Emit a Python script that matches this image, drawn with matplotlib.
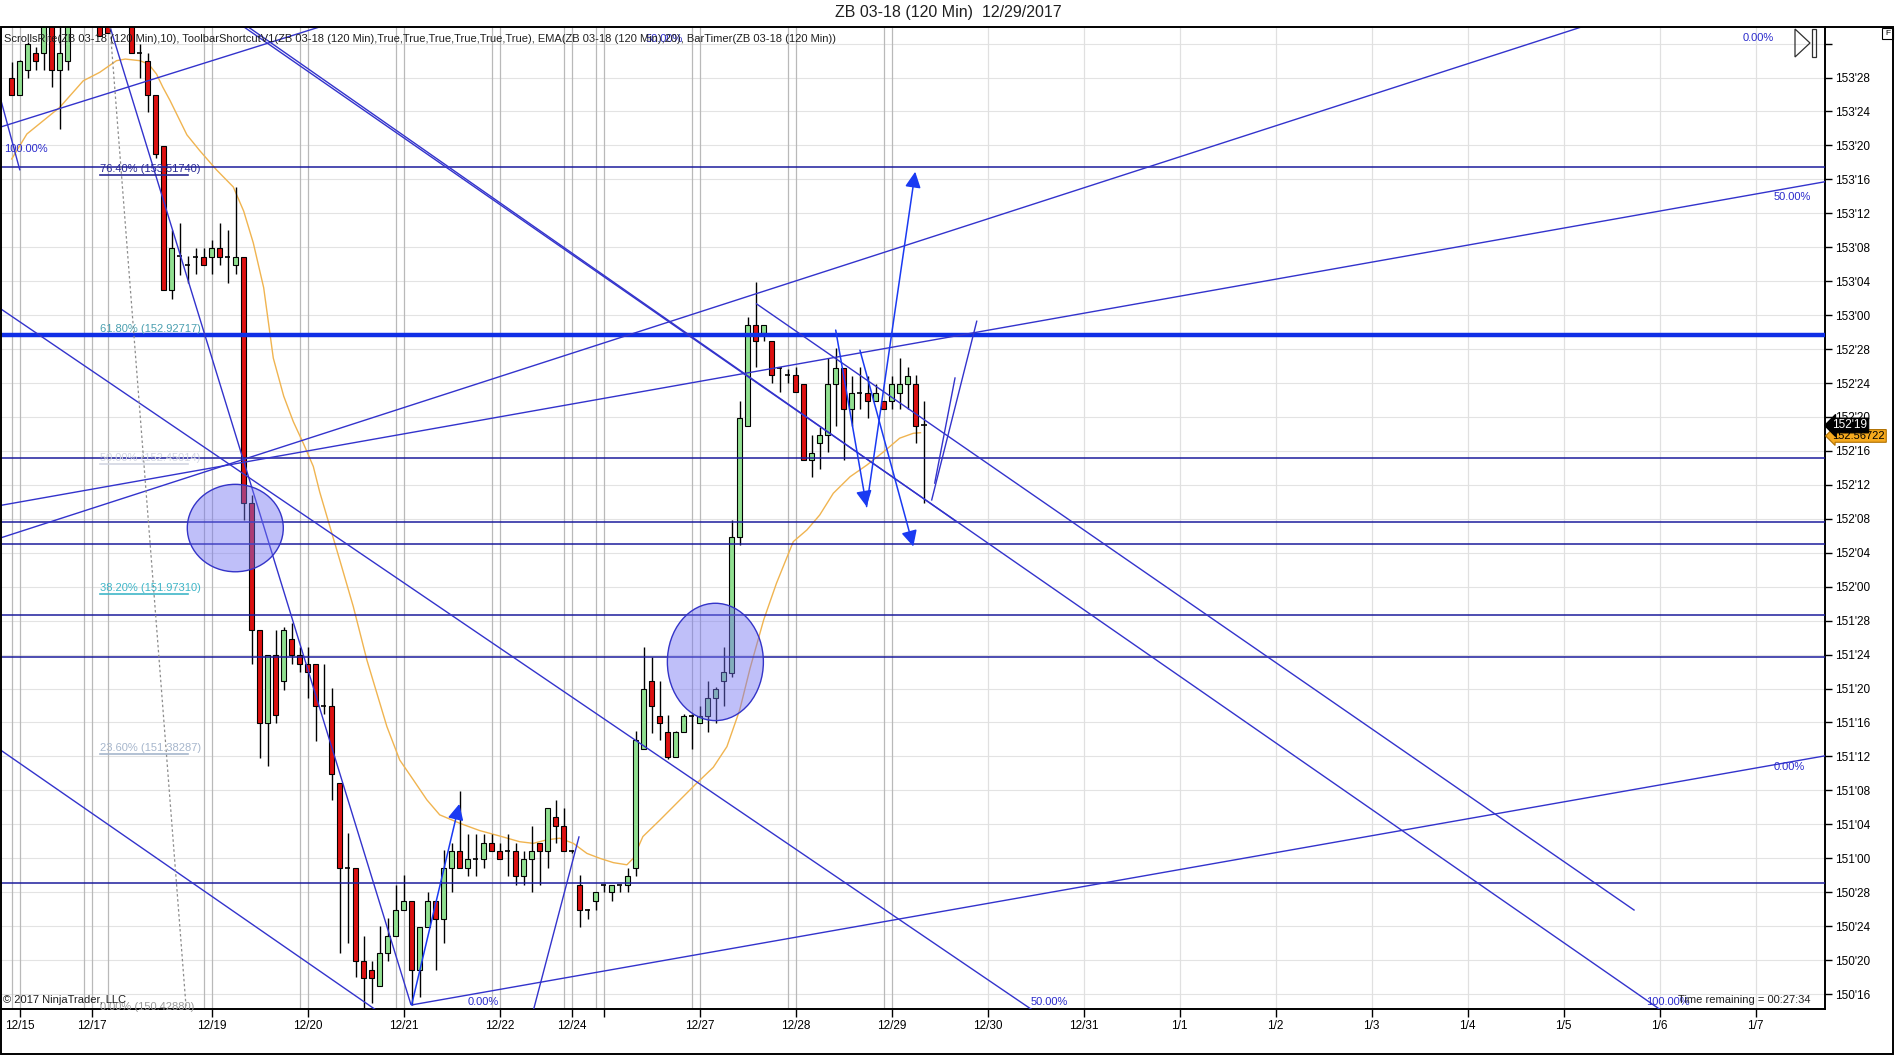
import matplotlib
matplotlib.use('Agg')
import matplotlib.pyplot as plt
from matplotlib.patches import Ellipse, Rectangle, Polygon
import matplotlib.transforms as mtransforms

plt.rcParams['font.family'] = ['Liberation Sans', 'DejaVu Sans']
NARROW = ['Liberation Sans Narrow', 'Liberation Sans', 'DejaVu Sans']

# ---------------- data (bar index = 120-min bar number) ----------------
opens = [153.872, 153.811, 153.904, 153.964, 153.964, 154.090, 153.904, 153.935, 154.100, 154.150,
         154.120, 154.150, 154.120, 154.080, 154.120, 154.080, 153.964, 153.935, 153.811, 153.622,
         153.091, 153.218, 153.183, 153.213, 153.213, 153.213, 153.246, 153.213, 153.183, 153.213,
         152.307, 151.840, 151.497, 151.748, 151.654, 151.809, 151.748, 151.715, 151.715, 151.560,
         151.560, 151.276, 150.963, 150.963, 150.620, 150.589, 150.528, 150.650, 150.714, 150.810,
         150.841, 150.589, 150.746, 150.841, 150.777, 150.963, 151.025, 150.963, 150.996, 150.996,
         151.058, 151.025, 151.025, 151.025, 150.935, 150.996, 151.058, 151.025, 151.151, 151.119,
         151.025, 150.902, 150.810, 150.841, 150.902, 150.874, 150.902, 150.902, 150.963, 151.402,
         151.651, 151.525, 151.464, 151.372, 151.464, 151.525, 151.497, 151.525, 151.589, 151.653,
         151.684, 152.184, 152.592, 152.964, 152.933, 152.905, 152.807, 152.780, 152.780, 152.745,
         152.467, 152.528, 152.559, 152.745, 152.807, 152.653, 152.715, 152.715, 152.684, 152.682,
         152.684, 152.715, 152.745, 152.745, 152.594]
highs = [153.933, 153.940, 154.005, 153.986, 154.120, 154.120, 154.100, 154.120, 154.180, 154.200,
         154.190, 154.200, 154.160, 154.150, 154.140, 154.100, 153.998, 153.964, 153.811, 153.622,
         153.312, 153.340, 153.218, 153.246, 153.246, 153.277, 153.340, 153.312, 153.472, 153.213,
         152.337, 151.840, 151.748, 151.840, 151.850, 151.868, 151.779, 151.779, 151.715, 151.716,
         151.626, 151.276, 151.092, 150.963, 150.712, 150.620, 150.749, 150.779, 150.902, 150.939,
         150.841, 150.746, 150.874, 150.841, 151.031, 151.058, 151.248, 151.090, 151.090, 151.090,
         151.090, 151.058, 151.090, 151.058, 151.025, 151.119, 151.058, 151.184, 151.215, 151.184,
         151.030, 150.939, 150.812, 150.874, 150.902, 150.902, 150.902, 150.963, 151.467, 151.777,
         151.743, 151.653, 151.528, 151.470, 151.530, 151.530, 151.561, 151.651, 151.630, 151.777,
         152.246, 152.682, 152.994, 153.123, 152.964, 152.905, 152.810, 152.800, 152.810, 152.745,
         152.559, 152.589, 152.841, 152.880, 152.807, 152.776, 152.808, 152.776, 152.745, 152.684,
         152.776, 152.841, 152.808, 152.780, 152.684]
lows = [153.811, 153.811, 153.872, 153.904, 153.904, 153.839, 153.686, 153.904, 154.070, 154.080,
        154.080, 154.029, 154.040, 154.070, 154.070, 153.964, 153.872, 153.747, 153.580, 153.091,
        153.058, 153.148, 153.119, 153.152, 153.183, 153.152, 153.183, 153.119, 153.152, 152.244,
        151.715, 151.370, 151.339, 151.497, 151.621, 151.715, 151.685, 151.591, 151.433, 151.530,
        151.215, 150.650, 150.687, 150.564, 150.440, 150.466, 150.528, 150.620, 150.714, 150.810,
        150.460, 150.491, 150.746, 150.589, 150.687, 150.874, 150.963, 150.933, 150.935, 150.963,
        151.028, 150.996, 150.935, 150.902, 150.902, 150.874, 150.902, 150.963, 151.058, 151.025,
        151.020, 150.746, 150.777, 150.810, 150.874, 150.841, 150.874, 150.874, 150.933, 151.402,
        151.463, 151.436, 151.365, 151.372, 151.464, 151.402, 151.497, 151.464, 151.497, 151.559,
        151.669, 152.154, 152.592, 152.808, 152.905, 152.749, 152.718, 152.749, 152.718, 152.467,
        152.403, 152.432, 152.497, 152.592, 152.467, 152.592, 152.653, 152.620, 152.684, 152.653,
        152.653, 152.653, 152.653, 152.528, 152.310]
closes = [153.811, 153.935, 153.998, 153.935, 154.090, 153.904, 153.964, 154.090, 154.150, 154.120,
          154.160, 154.029, 154.040, 154.120, 154.080, 153.964, 153.964, 153.811, 153.593, 153.091,
          153.246, 153.218, 153.183, 153.213, 153.183, 153.246, 153.213, 153.213, 153.213, 152.307,
          151.840, 151.497, 151.748, 151.527, 151.840, 151.748, 151.715, 151.685, 151.560, 151.560,
          151.311, 150.963, 150.963, 150.620, 150.558, 150.558, 150.650, 150.714, 150.810, 150.841,
          150.589, 150.746, 150.841, 150.777, 150.963, 151.025, 150.963, 150.996, 150.996, 151.058,
          151.028, 150.996, 151.025, 150.935, 150.996, 151.025, 151.028, 151.184, 151.119, 151.025,
          151.025, 150.810, 150.810, 150.874, 150.902, 150.902, 150.902, 150.935, 151.436, 151.622,
          151.559, 151.497, 151.372, 151.464, 151.525, 151.525, 151.525, 151.589, 151.622, 151.685,
          152.184, 152.620, 152.964, 152.905, 152.964, 152.780, 152.807, 152.780, 152.718, 152.467,
          152.494, 152.559, 152.745, 152.807, 152.653, 152.715, 152.715, 152.684, 152.715, 152.653,
          152.745, 152.745, 152.776, 152.592, 152.594]

# EMA (bar index, value)
ema_x = [0, 1.9, 3.95, 6.0, 8.95, 11.0, 13.1, 14.2, 16.0, 17.1, 18.1, 18.9, 19.8, 21.9, 23.5, 25.6,
         27.7, 29.0, 30.2, 31.5, 32.7, 34.0, 35.2, 36.5, 37.7, 38.5, 41.0, 42.7, 44.4, 46.9, 48.5,
         50.2, 51.9, 53.5, 56.0, 58.5, 61.0, 63.5, 65.2, 66.9, 68.5, 70.2, 71.9, 73.5, 75.2, 76.9,
         77.7, 78.9, 81.0, 85.4, 87.7, 89.4, 91.0, 92.3, 94.0, 95.6, 97.7, 99.4, 101.0, 102.7,
         104.8, 106.9, 109.0, 111.0, 112.7, 113.6]
ema_y = [153.575, 153.667, 153.716, 153.765, 153.863, 153.894, 153.937, 153.943, 153.937, 153.925,
         153.888, 153.839, 153.790, 153.664, 153.606, 153.535, 153.472, 153.383, 153.266, 153.101,
         152.842, 152.702, 152.608, 152.525, 152.443, 152.349, 152.099, 151.927, 151.730, 151.485,
         151.362, 151.289, 151.215, 151.160, 151.129, 151.102, 151.082, 151.061, 151.055, 151.068,
         151.074, 151.055, 151.018, 151.000, 150.984, 150.976, 151.000, 151.080, 151.140, 151.270,
         151.335, 151.411, 151.546, 151.700, 151.878, 152.013, 152.166, 152.209, 152.264, 152.344,
         152.405, 152.448, 152.497, 152.547, 152.565, 152.567]
ema_last = 152.56722
last_close = 152.59375

# axis labels
ytick_labels = ["150'16", "150'20", "150'24", "150'28", "151'00", "151'04", "151'08", "151'12",
                "151'16", "151'20", "151'24", "151'28", "152'00", "152'04", "152'08", "152'12",
                "152'16", "152'20", "152'24", "152'28", "153'00", "153'04", "153'08", "153'12",
                "153'16", "153'20", "153'24", "153'28", "154'00"]
ytick_hidden = ["154'00"]
xtick_pos = [1, 10, 25, 37, 49, 61, 70, 74, 86, 98, 110, 122, 134, 146, 158, 170, 182, 194, 206, 218]
xtick_labels = ['12/15', '12/17', '12/19', '12/20', '12/21', '12/22', '12/24', '', '12/27', '12/28',
                '12/29', '12/30', '12/31', '1/1', '1/2', '1/3', '1/4', '1/5', '1/6', '1/7']
grid_hist = [0, 1, 9, 10, 12, 24, 25, 36, 37, 48, 49, 60, 61, 69, 70, 73, 74, 85, 86, 97, 98, 109, 110]
grid_future = [122, 134, 146, 158, 170, 182, 194, 206, 218]

# drawing objects (bar index, price)
hline_prices = [153.546, 152.473, 152.239, 152.159, 151.894, 151.742, 150.909]
thick_price = 152.92717
trend_lines = [
    ((-1.46, 153.692), (40.85, 154.083)),
    ((-1.46, 152.179), (199.68, 154.094)),
    ((-1.46, 152.299), (227.0, 153.493)),
    ((50.0, 150.460), (227.0, 151.379)),
    ((28.6, 154.070), (206.49, 150.434)),
    ((28.6, 154.081), (118.03, 152.241)),
    ((-1.46, 153.025), (128.20, 150.429)),
    ((-1.46, 151.400), (46.14, 150.429)),
    ((93.03, 153.043), (202.86, 150.808)),
    ((12.29, 154.062), (49.92, 150.460)),
    ((-1.46, 153.804), (1.03, 153.533)),
    ((65.03, 150.420), (70.93, 151.081)),
    ((114.98, 152.317), (120.65, 152.980)),
    ((115.36, 152.379), (117.93, 152.771)),
]
dashed_line = ((12.29, 154.062), (21.87, 150.425))
arrows = [
    ((49.99, 150.460), (55.95, 151.200)),
    ((103.0, 152.945), (106.86, 152.295)),
    ((106.03, 152.871), (112.70, 152.148)),
    ((106.86, 152.295), (112.94, 153.528)),
]
ellipses = [((27.95, 152.216), 12.0, 0.322), ((87.96, 151.723), 12.0, 0.432)]

fib_levels = [153.51740, 152.92717, 152.45014, 151.97310, 151.38287, 150.42880]
fib_names = ['76.40%', '61.80%', '50.00%', '38.20%', '23.60%', '0.00%']
fib_colors = ['#2b2b95', '#4a9fb0', '#d2d6e2', '#3fb6c8', '#a6b6cc', '#9a9a9a']
fib_x0, fib_x1 = 11.0, 22.0

pct_labels = [
    ('100.00%', -1.0, 153.613), ('0.00%', 57.0, 150.471), ('50.00%', 127.4, 150.471),
    ('100.00%', 204.3, 150.471), ('0.00%', 216.4, 154.020), ('50.00%', 220.2, 153.435),
    ('0.00%', 220.2, 151.337), ('50.00%', 79.2, 154.016),
]

# ---------------- figure ----------------
W, H = 1896, 1055
fig = plt.figure(figsize=(W / 100, H / 100), dpi=100)
ax = fig.add_axes([0.0, 1 - 1009 / H, 1825 / W, (1009 - 27) / H])
ax.set_xlim(-1.46, 226.66)
ax.set_ylim(150.445, 154.061)

def parse_tick(s):
    a, b = s.split("'")
    return int(a) + int(b) / 32.0

ytick_vals = [parse_tick(s) for s in ytick_labels]

# grids
for v in ytick_vals:
    ax.axhline(v, color='#e3e3e3', lw=0.8, zorder=0)
for g in grid_hist:
    ax.axvline(g, color='#b9b9b9', lw=0.9, zorder=0)
for g in grid_future:
    ax.axvline(g, color='#e0e0e0', lw=0.9, zorder=0)

# EMA
ax.plot(ema_x, ema_y, color='#f0b450', lw=1.0, zorder=2)

# candles
bw = 0.6
for i, (o, h, l, c) in enumerate(zip(opens, highs, lows, closes)):
    ax.vlines(i, l, h, color='black', lw=1.0, zorder=3)
    if abs(c - o) < 0.004:
        ax.hlines(c, i - bw / 2 - 0.05, i + bw / 2 + 0.05, color='black', lw=1.2, zorder=4)
    else:
        col = '#90e090' if c > o else '#dd1010'
        ax.add_patch(Rectangle((i - bw / 2, min(o, c)), bw, abs(c - o), fc=col, ec='black',
                               lw=0.8, zorder=4))

# horizontal drawing lines
for p in hline_prices:
    ax.axhline(p, color='#1c1c9c', lw=1.1, zorder=5)
ax.axhline(thick_price, color='#0f2fe6', lw=3.2, zorder=5)

# trend lines
for (x1, y1), (x2, y2) in trend_lines:
    ax.plot([x1, x2], [y1, y2], color='#3333cc', lw=1.0, zorder=5, solid_capstyle='butt')
(x1, y1), (x2, y2) = dashed_line
ax.plot([x1, x2], [y1, y2], color='#8c8c8c', lw=0.9, ls=(0, (2, 2)), zorder=5)

for (x1, y1), (x2, y2) in arrows:
    ax.annotate('', xy=(x2, y2), xytext=(x1, y1),
                arrowprops=dict(arrowstyle='-|>,head_length=0.6,head_width=0.3', color='#1a3af2',
                                lw=1.1, mutation_scale=16, shrinkA=0, shrinkB=0), zorder=6)

for (cx, cy), w, h in ellipses:
    ax.add_patch(Ellipse((cx, cy), w, h, fc=(0.45, 0.45, 0.95, 0.45), ec='#3434c8', lw=1.0, zorder=6))

# fib labels
for lev, name, col in zip(fib_levels, fib_names, fib_colors):
    if name != '61.80%':
        ax.plot([fib_x0, fib_x1], [lev, lev], color=col, lw=1.2, zorder=6)
    ax.text(fib_x0, lev + 0.004, f'{name} ({lev:.5f})', color=col, fontsize=8, ha='left',
            va='bottom', zorder=7)

for txt, x, y in pct_labels:
    ax.text(x, y, txt, color='#2a2acc', fontsize=8, ha='left', va='center', zorder=7)

ax.text(0.002, 0.988, 'ScrollsRite(ZB 03-18 (120 Min),10), ToolbarShortcutV1(ZB 03-18 (120 Min),True,True,'
        'True,True,True,True), EMA(ZB 03-18 (120 Min),20), BarTimer(ZB 03-18 (120 Min))',
        transform=ax.transAxes, fontsize=8, family=NARROW, ha='left', va='center', color='#202020', zorder=7)
ax.text(0.0015, 150.478, '\u00a9 2017 NinjaTrader, LLC', fontsize=8, family=NARROW, ha='left',
        va='center', color='#202020', zorder=8, transform=mtransforms.blended_transform_factory(ax.transAxes, ax.transData))
ax.text(224.8, 150.478, 'Time remaining = 00:27:34', fontsize=8, family=NARROW, ha='right', va='center',
        color='#202020', zorder=8)

# axes styling
for s in ['top', 'left']:
    ax.spines[s].set_visible(False)
ax.spines['right'].set_linewidth(1.4)
ax.spines['bottom'].set_linewidth(1.4)
ax.yaxis.tick_right()
ax.set_yticks(ytick_vals)
ax.set_yticklabels(['' if s in ytick_hidden else s for s in ytick_labels])
ax.tick_params(axis='y', direction='out', length=5, width=1, pad=2, labelsize=8.5, colors='black')
ax.set_xticks(xtick_pos)
ax.set_xticklabels(xtick_labels, family=NARROW)
ax.tick_params(axis='x', direction='out', length=6, width=1, pad=2, labelsize=8.5)

# price markers
trans = mtransforms.blended_transform_factory(ax.transAxes, ax.transData)
ax.text(1.004, ema_last - 0.012, f'{ema_last:.5f}', transform=trans, fontsize=8, va='center', ha='left',
        color='black', bbox=dict(boxstyle='larrow,pad=0.12', fc='#f5a91e', ec='#b07000', lw=0.8),
        zorder=10, clip_on=False)
ax.text(1.004, last_close, "152'19", transform=trans, fontsize=8.5, va='center', ha='left',
        color='white', bbox=dict(boxstyle='larrow,pad=0.12', fc='black', ec='black', lw=0.8),
        zorder=11, clip_on=False)

# title and frame
fig.text(0.5, 1 - 13 / H, 'ZB 03-18 (120 Min)  12/29/2017', ha='center', va='center', fontsize=11.5,
         family=NARROW, color='#202020')
fig.add_artist(Rectangle((0.0006, 0.001), 0.9979, 1 - 27 / H - 0.001, transform=fig.transFigure,
                         fill=False, ec='black', lw=1.4))

def fpx(x, y):
    return (x / W, 1 - y / H)

fig.add_artist(Polygon([fpx(1795, 29), fpx(1795, 57), fpx(1810, 43)], closed=True, fill=False,
                       ec='#303030', lw=0.9, transform=fig.transFigure))
fig.add_artist(Rectangle(fpx(1812, 57), 4 / W, 28 / H, fill=False, ec='#303030', lw=0.9,
                         transform=fig.transFigure))
fig.add_artist(Rectangle(fpx(1882, 39), 11 / W, 11 / H, fill=False, ec='black', lw=0.8,
                         transform=fig.transFigure))
fig.text(1887.5 / W, 1 - 33.5 / H, 'F', fontsize=6, ha='center', va='center')

fig.savefig('out.png', dpi=100, facecolor='white')
